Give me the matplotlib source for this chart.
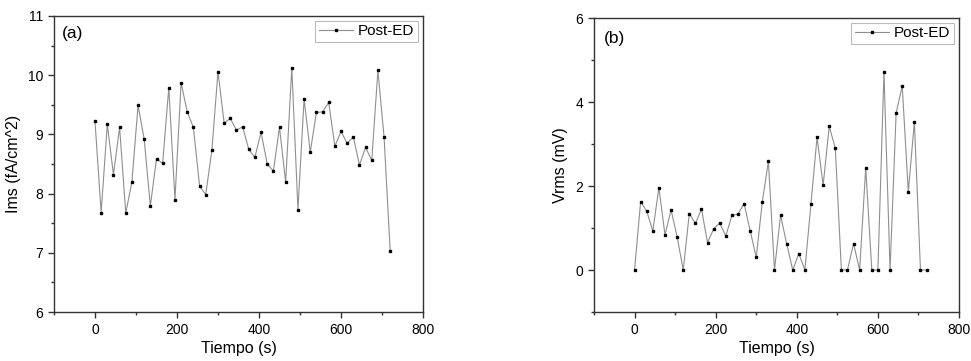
import numpy as np
from matplotlib import pyplot as plt
from matplotlib.ticker import MultipleLocator

plt.rcParams['font.family'] = ['Liberation Sans', 'DejaVu Sans']

# Tiempo (s), step 15 s
tiempo = np.arange(0, 721, 15)

ims = [9.22, 7.68, 9.17, 8.32, 9.12, 7.67, 8.20, 9.49, 8.92, 7.79,
       8.59, 8.51, 9.79, 7.90, 9.87, 9.38, 9.12, 8.13, 7.98, 8.73,
       10.06, 9.19, 9.27, 9.07, 9.13, 8.75, 8.61, 9.04, 8.50, 8.38,
       9.12, 8.19, 10.13, 7.73, 9.60, 8.70, 9.37, 9.38, 9.54, 8.80,
       9.05, 8.85, 8.96, 8.48, 8.78, 8.56, 10.08, 8.96, 7.03]

vrms = [0.0, 1.63, 1.40, 0.93, 1.96, 0.84, 1.43, 0.79, 0.0, 1.34,
        1.11, 1.45, 0.65, 0.98, 1.12, 0.81, 1.30, 1.33, 1.58, 0.94,
        0.30, 1.62, 2.59, 0.0, 1.30, 0.63, 0.0, 0.39, 0.0, 1.58,
        3.16, 2.02, 3.42, 2.90, 0.0, 0.0, 0.63, 0.0, 2.43, 0.0,
        0.0, 4.71, 0.0, 3.74, 4.38, 1.86, 3.53, 0.0, 0.0]

fig = plt.figure(figsize=(9.71, 3.61), dpi=100)
W, H = 971, 361
ax1 = fig.add_axes([54 / W, 1 - 312 / H, (423 - 54) / W, (312 - 16) / H])
ax2 = fig.add_axes([594 / W, 1 - 312 / H, (959 - 594) / W, (312 - 18) / H])


def style(ax, y, ylim, ymaj, ymin, ylabel, tag, tagpos):
    ax.plot(tiempo, y, '-', color='#8f8f8f', linewidth=0.8,
            marker='s', markersize=1.6, markerfacecolor='black',
            markeredgecolor='black', label='Post-ED')
    ax.set_xlim(-100, 800)
    ax.set_ylim(*ylim)
    ax.xaxis.set_major_locator(MultipleLocator(200))
    ax.xaxis.set_minor_locator(MultipleLocator(100))
    ax.yaxis.set_major_locator(MultipleLocator(ymaj))
    ax.yaxis.set_minor_locator(MultipleLocator(ymin))
    ax.tick_params(which='major', direction='out', length=4, width=1,
                   labelsize=10, color='#333333', pad=4)
    ax.tick_params(which='minor', direction='out', length=2.5, width=1,
                   color='#333333')
    for s in ax.spines.values():
        s.set_linewidth(1.0)
        s.set_color('#333333')
    ax.set_xlabel('Tiempo (s)', fontsize=11.5, labelpad=3)
    ax.set_ylabel(ylabel, fontsize=11.5, labelpad=5)
    ax.text(tagpos[0], tagpos[1], tag, transform=ax.transAxes, fontsize=12.5,
            va='top', ha='left')
    leg = ax.legend(loc='upper right', fontsize=11, frameon=True,
                    fancybox=False, borderpad=0.25, handlelength=2.2,
                    handletextpad=0.35, borderaxespad=0.3)
    leg.get_frame().set_edgecolor('#aaaaaa')
    leg.get_frame().set_linewidth(0.8)


style(ax1, ims, (6, 11), 1, 0.5, 'Ims (fA/cm^2)', '(a)', (0.022, 0.965))
style(ax2, vrms, (-1, 6), 2, 1, 'Vrms (mV)', '(b)', (0.028, 0.955))

fig.savefig('out.png', dpi=100)
